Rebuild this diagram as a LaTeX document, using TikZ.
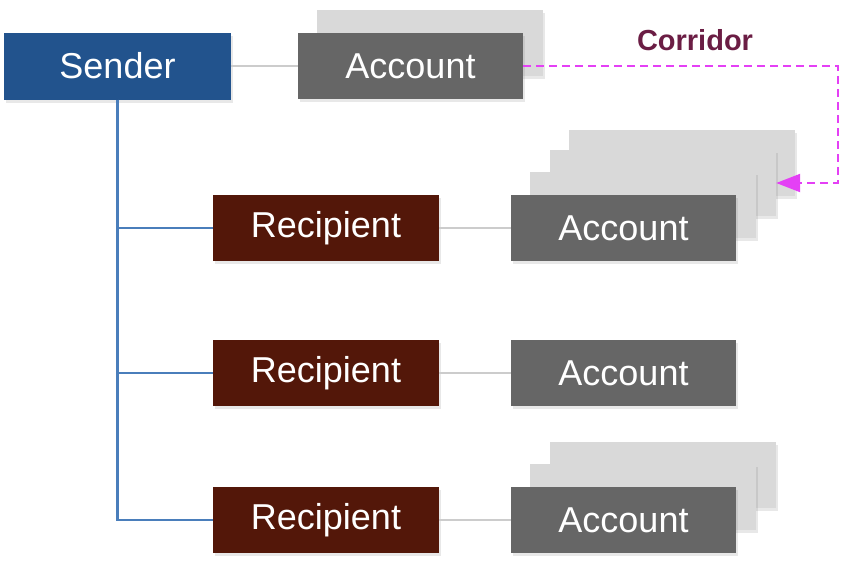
\documentclass[tikz,border=0pt]{standalone}
\usepackage{fontspec}
\setmainfont{Liberation Sans}
\usetikzlibrary{shadows,arrows.meta}
\definecolor{senderblue}{RGB}{34,83,141}
\definecolor{recipbrown}{RGB}{83,23,9}
\definecolor{accgray}{RGB}{102,102,102}
\definecolor{cardgray}{RGB}{217,217,217}
\definecolor{linegray}{RGB}{204,204,204}
\definecolor{treeblue}{RGB}{74,126,187}
\definecolor{corrmag}{RGB}{228,64,245}
\definecolor{corrtext}{RGB}{107,29,68}
\tikzset{
  boxbase/.style={rectangle, inner sep=0pt, text=white, font=\fontsize{36}{40}\selectfont,
     drop shadow={shadow xshift=2pt, shadow yshift=-3pt, opacity=0.18}},
  senderbox/.style={boxbase, fill=senderblue, minimum width=227pt, minimum height=67pt},
  recipbox/.style={boxbase, fill=recipbrown, minimum width=226pt, minimum height=66pt},
  accbox/.style={boxbase, fill=accgray, minimum width=225pt, minimum height=66pt},
  cardbox/.style={boxbase, fill=cardgray, minimum width=226pt, minimum height=66pt},
  linkline/.style={draw=linegray, line width=2.2pt},
  treeline/.style={draw=treeblue, line width=2.2pt},
  corrline/.style={draw=corrmag, line width=2.2pt, dash pattern=on 8pt off 5pt,
     -{Triangle[length=24pt,width=18pt,fill=corrmag]}},
}
\begin{document}
\begin{tikzpicture}[x=1pt,y=-1pt]
\useasboundingbox (0,0) rectangle (848,562);
% cards behind top account
\node[cardbox] (c0a) at (429.5,43) {};
% cards behind first recipient account
\node[cardbox] (c1c) at (682,163) {};
\node[cardbox] (c1b) at (663,183) {};
\node[cardbox] (c1a) at (643,205) {};
% cards behind third recipient account
\node[cardbox] (c3b) at (662.5,475) {};
\node[cardbox] (c3a) at (642.5,497) {};
% main nodes
\node[senderbox] (sender) at (117.5,66) {Sender};
\node[accbox] (acc0) at (410.5,66) {Account};
\node[recipbox] (r1) at (326,228) {Recipient};
\node[recipbox] (r2) at (326,373) {Recipient};
\node[recipbox] (r3) at (326,520) {Recipient};
\node[accbox] (a1) at (623.5,228) {Account};
\node[accbox] (a2) at (623.5,373) {Account};
\node[accbox] (a3) at (623.5,520) {Account};
% connectors
\draw[linkline] (sender.east) -- (acc0.west);
\draw[linkline] (r1.east) -- (a1.west);
\draw[linkline] (r2.east) -- (a2.west);
\draw[linkline] (r3.east) -- (a3.west);
\draw[treeline] (sender.south) |- (r1.west);
\draw[treeline] (sender.south) |- (r2.west);
\draw[treeline] (sender.south) |- (r3.west);
% corridor
\coordinate (corner) at (838,66);
\draw[corrline] (acc0.east) -- (corner) |- (c1b.east);
\node[font=\bfseries\fontsize{29}{34}\selectfont, text=corrtext] (corr) at (695,40) {Corridor};
\end{tikzpicture}
\end{document}
